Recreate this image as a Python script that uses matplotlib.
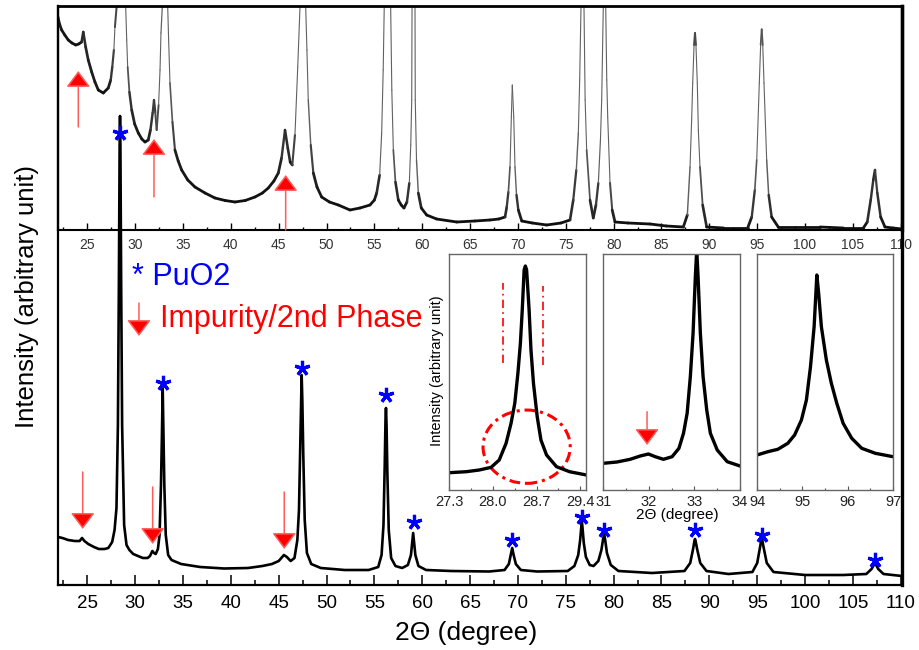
import numpy as np
import matplotlib
matplotlib.use('Agg')
import matplotlib.pyplot as plt
import matplotlib.font_manager as fm
from matplotlib.patches import Ellipse
from matplotlib.collections import LineCollection
from matplotlib.ticker import MultipleLocator, FixedLocator


def pick(names):
    for n in names:
        try:
            fm.findfont(fm.FontProperties(family=n), fallback_to_default=False)
            return n
        except Exception:
            pass
    return 'DejaVu Sans'


NARROW = pick(['Liberation Sans Narrow', 'Arial Narrow', 'Liberation Sans'])
ARIAL = pick(['Liberation Sans', 'Arial', 'DejaVu Sans'])
plt.rcParams['font.family'] = [ARIAL, 'DejaVu Sans']

# ---------------- data ----------------
# main (bottom) pattern
bottom_2theta = [21.94, 22.4, 23.0, 23.7, 24.2, 24.45, 24.7, 25.1, 25.7, 26.2, 26.8, 27.2, 27.6, 27.85,
                 28.05, 28.2, 28.3, 28.38, 28.42, 28.46, 28.54, 28.64, 28.85, 29.1, 29.4, 29.8, 30.3, 30.8,
                 31.3, 31.55, 31.8, 31.97, 32.15, 32.38, 32.55, 32.7, 32.8, 32.88, 32.96, 33.05, 33.2, 33.45,
                 33.8, 34.8, 36.8, 39.3, 41.8, 43.3, 44.3, 45.0, 45.55, 45.85, 46.25, 46.65, 46.95, 47.12,
                 47.25, 47.34, 47.4, 47.47, 47.57, 47.72, 47.95, 48.4, 49.4, 51.9, 54.4, 55.4, 55.75, 55.95,
                 56.08, 56.16, 56.21, 56.27, 56.36, 56.5, 56.75, 57.2, 57.9, 58.5, 58.82, 58.97, 59.05, 59.13,
                 59.28, 59.6, 60.4, 63.0, 67.0, 68.6, 69.05, 69.25, 69.4, 69.55, 69.78, 70.3, 72.0, 75.2,
                 75.9, 76.3, 76.5, 76.62, 76.68, 76.74, 76.88, 77.1, 77.5, 77.9, 78.4, 78.72, 78.9, 79.0,
                 79.1, 79.3, 79.7, 80.5, 84.0, 87.4, 88.0, 88.3, 88.44, 88.5, 88.56, 88.72, 89.05, 89.7,
                 92.0, 94.5, 95.0, 95.3, 95.42, 95.47, 95.53, 95.66, 96.0, 96.7, 100.0, 104.0, 106.4,
                 106.95, 107.3, 107.65, 108.2, 110.13]
bottom_intensity = [48, 47, 45, 44, 44, 47, 44, 41, 38, 36, 36, 37, 43, 55,
                    77, 160, 300, 440, 469, 440, 300, 160, 60, 40, 35, 31, 29, 27,
                    27, 29, 34, 32, 31, 36, 50, 100, 150, 197, 150, 100, 50, 30,
                    25, 21, 18, 16.5, 17, 19, 21, 24, 30, 28, 24, 27, 45, 75,
                    140, 190, 210, 185, 130, 65, 32, 21, 17, 15, 15, 18, 30, 60,
                    120, 165, 177, 160, 110, 55, 27, 19, 17, 20, 30, 44, 52, 44,
                    30, 19, 15, 14, 13.5, 15, 21, 30, 37, 30, 21, 15, 13.5, 14,
                    19, 30, 45, 58, 63, 58, 42, 28, 20, 19, 24, 35, 46, 50,
                    46, 32, 20, 14, 12, 14, 22, 36, 44, 46, 44, 36, 22, 14,
                    11, 13, 22, 38, 45, 47, 45, 38, 22, 13, 10, 10, 11,
                    16, 22, 16, 11, 9]

# upper panel (expanded scale, strong peaks run off the top)
top_2theta = [21.94, 22.1, 22.32, 22.65, 23.01, 23.4, 23.79, 24.1, 24.41, 24.58, 24.83, 25.1, 25.46,
              25.8, 26.15, 26.67, 27.19, 27.45, 27.61, 27.78, 27.89,
              28.07, 28.42, 29.01, 29.12, 29.22, 29.4, 29.64, 29.95, 30.33, 30.7, 31.03, 31.37, 31.6,
              31.83, 31.97, 32.1, 32.25, 32.45, 32.6, 32.70, 32.84,
              33.12, 33.40, 33.5, 33.64, 33.9, 34.16, 34.5, 34.86, 35.5, 36.25, 37.3, 38.34, 39.4,
              40.43, 41.5, 42.52, 43.3, 43.91, 44.5, 44.96, 45.3, 45.66, 45.95, 46.2, 46.42, 46.7,
              46.99, 47.23, 47.52, 47.82, 47.95, 48.09, 48.35, 48.62, 49.0, 49.49, 50.3, 51.23, 52.45,
              53.5, 54.54, 55.0, 55.24, 55.55, 55.76, 55.92, 56.03,
              56.37, 56.70, 56.82, 56.98, 57.2, 57.50, 57.8, 58.09, 58.4, 58.65, 58.80, 58.90, 59.11,
              59.27, 59.4, 59.59, 59.9, 60.46, 61.5, 63.60, 65.5, 67.08, 68.0,
              68.65, 68.83, 69.0, 69.17, 69.31, 69.41, 69.56, 69.69, 69.85, 70.04, 70.4, 71.5, 73.00,
              74.5, 75.44, 75.78, 76.1, 76.31, 76.45,
              76.59, 76.72, 76.90, 77.02, 77.18, 77.53, 77.87, 78.15, 78.40, 78.62, 78.75, 78.92, 79.02,
              79.17, 79.28, 79.38, 79.62, 79.85, 80.14, 81.5, 83.80, 85.5, 87.28, 87.70, 87.98, 88.15,
              88.26, 88.40, 88.50, 88.60, 88.74, 88.85, 89.02, 89.3, 89.72, 91.5, 94.0, 94.43, 94.75,
              94.95, 95.22, 95.36, 95.47, 95.58, 95.71, 95.99, 96.2, 96.51, 97.2, 99.0, 101.56, 104.0,
              106.09, 106.5, 106.86, 107.13, 107.31, 107.55, 107.9, 108.35, 109.2, 110.13]
top_intensity = [213, 206, 200, 195, 190, 187, 185, 186, 188, 198, 183, 170, 158,
                 148, 140, 137, 142, 150, 163, 180, 203,
                 224, 3000, 224, 190, 163, 138, 120, 106, 97, 91, 88, 90, 100,
                 117, 130, 118, 100, 125, 160, 197, 224,
                 3000, 224, 190, 147, 108, 80, 69, 60, 50, 43, 37, 32, 29.5,
                 28, 29.5, 33, 37, 42, 49, 57, 72, 100, 82, 68, 65, 95,
                 163, 224, 3000, 224, 180, 130, 85, 57, 43, 33, 28, 25, 20,
                 22, 25, 30, 37, 55, 97, 160, 224,
                 3000, 224, 140, 80, 48, 30, 25, 22, 28, 47, 85, 130, 700,
                 130, 70, 37, 22, 15, 11, 8, 9, 10, 11,
                 13, 23, 38, 63, 113, 145, 113, 63, 35, 20, 9, 7, 5,
                 7, 10, 30, 60, 97, 150,
                 224, 3000, 224, 130, 80, 30, 12, 25, 47, 90, 130, 224, 3000,
                 224, 150, 113, 47, 20, 8, 7, 6, 4, 3, 15, 63, 110,
                 147, 185, 197, 185, 147, 100, 63, 25, 3, 2, 2, 13, 40,
                 70, 147, 185, 200.7, 185, 147, 70, 35, 13, 3, 3, 3, 2,
                 2, 8, 30, 50, 60, 37, 13, 3, 2, 1]

# insets
ins1_2theta = [27.3, 27.57, 27.78, 27.97, 28.10, 28.21, 28.29, 28.35, 28.40, 28.44, 28.47, 28.50, 28.52,
               28.54, 28.58, 28.61, 28.65, 28.71, 28.77, 28.86, 29.02, 29.23, 29.5]
ins1_intensity = [17.3, 18.3, 20, 22.7, 30, 46.7, 66.7, 86.7, 116.7, 146.7, 180, 220, 224,
                  220, 180, 140, 106.7, 73.3, 50, 35, 23.3, 18.3, 15]
ins2_2theta = [31.0, 31.3, 31.59, 31.81, 31.99, 32.14, 32.32, 32.51, 32.66, 32.76, 32.84, 32.91, 32.97,
               33.02, 33.05, 33.08, 33.13, 33.19, 33.27, 33.35, 33.5, 33.72, 34.0]
ins2_intensity = [26.7, 28, 30.7, 34, 36, 33.3, 30.7, 33.3, 41.7, 56.7, 76.7, 113.3, 156.7,
                  213.3, 240, 213.3, 156.7, 113.3, 80, 56.7, 40, 28.3, 24]
ins3_2theta = [94.0, 94.24, 94.46, 94.68, 94.83, 94.98, 95.09, 95.18, 95.26, 95.32, 95.36, 95.42, 95.53,
               95.64, 95.76, 95.9, 96.09, 96.31, 96.61, 97.0]
ins3_intensity = [35, 38.3, 40.7, 46.7, 55, 70, 90, 123.3, 163.3, 215, 196.7, 163.3, 130,
                  106.7, 86.7, 66.7, 51.7, 41.7, 36.7, 33.3]

# PuO2 reflections (stars) on main pattern
star_2theta = [28.42, 32.9, 47.42, 56.21, 59.1, 69.4, 76.68, 79.0, 88.5, 95.47, 107.3]
star_intensity = [452, 202, 217, 190, 63, 45, 68, 55, 55, 50, 25]

# impurity arrows: position, tail, tip
main_arrow_2theta = [24.52, 31.83, 45.58]
main_arrow_tail = [113, 98, 93]
main_arrow_tip = [56, 41, 36]
top_arrow_2theta = [24.06, 31.97, 45.73]
top_arrow_tail = [103, 33, 0]
top_arrow_tip = [159, 91, 55]
legend_arrow = (30.40, 282, 249)
ins2_arrow = (31.96, 78.3, 45)

ins1_mark_2theta = [28.16, 28.81]
ins1_mark_low = [126.7, 125]
ins1_mark_high = [206.7, 204]
ins1_circle = (28.54, 43.3, 1.40, 73.3)

main_ticks = list(range(25, 111, 5))
ins1_ticks = [27.3, 28.0, 28.7, 29.4]
ins2_ticks = [31, 32, 33, 34]
ins3_ticks = [94, 95, 96, 97]

# ---------------- figure ----------------
W, H = 919, 650
fig = plt.figure(figsize=(W / 100, H / 100), dpi=100)


def rect(x0, y0, x1, y1):
    return [x0 / W, 1 - y1 / H, (x1 - x0) / W, (y1 - y0) / H]


XLIM = (21.94, 110.13)
RED = '#ff0000'
SHAFT = '#ff5c5c'
BLUE = '#0000ff'


def red_arrow(axx, x, tail, tip):
    axx.annotate('', xy=(x, tip), xytext=(x, tail),
                 arrowprops=dict(arrowstyle='-|>,head_length=1.0,head_width=0.75',
                                 mutation_scale=10, lw=1.1, ec=SHAFT, fc=RED,
                                 shrinkA=0, shrinkB=0), annotation_clip=False)


# upper panel
ax_top = fig.add_axes(rect(58, 6, 902, 230), zorder=1)
ax_top.set_xlim(*XLIM)
ax_top.set_ylim(0, 224)
# flat (noisy) stretches look heavy and dark, steep peak flanks look thin and grey
tx = np.array(top_2theta, dtype=float)
ty = np.array(top_intensity, dtype=float)
px_per_deg = 844 / (XLIM[1] - XLIM[0])
segs = [[(tx[i], ty[i]), (tx[i + 1], ty[i + 1])] for i in range(len(tx) - 1)]
slope = np.abs(np.diff(ty)) / (np.diff(tx) * px_per_deg)
widths = np.clip(2.3 - 0.07 * slope, 0.8, 2.0)
grey = np.clip(0.06 + 0.018 * slope, 0.06, 0.38)
colors = [(g, g, g) for g in grey]
ax_top.add_collection(LineCollection(segs, linewidths=widths, colors=colors,
                                     capstyle='round', joinstyle='round'))
ax_top.set_yticks([])
ax_top.xaxis.set_major_locator(FixedLocator(main_ticks))
ax_top.xaxis.set_minor_locator(MultipleLocator(2.5))
ax_top.tick_params(axis='x', which='major', direction='in', length=5, width=1, pad=6,
                   labelsize=10, labelcolor='#333333')
ax_top.tick_params(axis='x', which='minor', direction='in', length=2.5, width=1)
for s, lw in (('top', 2.0), ('left', 1.6), ('right', 2.4), ('bottom', 1.5)):
    ax_top.spines[s].set_linewidth(lw)
for x, t0, t1 in zip(top_arrow_2theta, top_arrow_tail, top_arrow_tip):
    red_arrow(ax_top, x, t0, t1)

# main panel
ax = fig.add_axes(rect(58, 6, 902, 585), zorder=2)
ax.patch.set_alpha(0)
ax.plot(bottom_2theta, bottom_intensity, color='black', lw=1.9, solid_joinstyle='round')
ax.plot(star_2theta, star_intensity, linestyle='none', marker=(5, 2, 0), ms=11, mew=2.3,
        color=BLUE)
ax.set_xlim(*XLIM)
ax.set_ylim(0, 579)
ax.set_yticks([])
ax.xaxis.set_major_locator(FixedLocator(main_ticks))
ax.xaxis.set_minor_locator(MultipleLocator(2.5))
ax.tick_params(axis='x', which='major', direction='in', length=7, width=1.1, pad=7, labelsize=13.5)
ax.tick_params(axis='x', which='minor', direction='in', length=3.5, width=1.1)
for tl in ax.get_xticklabels():
    tl.set_fontfamily(NARROW)
ax.spines['top'].set_visible(False)
for s, lw in (('left', 1.6), ('right', 2.4), ('bottom', 1.6)):
    ax.spines[s].set_linewidth(lw)
for x, t0, t1 in zip(main_arrow_2theta, main_arrow_tail, main_arrow_tip):
    red_arrow(ax, x, t0, t1)
red_arrow(ax, *legend_arrow)
ax.text(29.65, 300, '* PuO2', color=BLUE, fontsize=22, ha='left', va='baseline')
ax.text(32.55, 258, 'Impurity/2nd Phase', color=RED, fontsize=22, ha='left', va='baseline')

fig.text(27 / W, 1 - 296 / H, 'Intensity (arbitrary unit)', rotation=90, ha='center', va='center',
         fontsize=18.5)
fig.text(466 / W, 1 - 633 / H, '2\u0398 (degree)', ha='center', va='center', fontsize=19,
         family=[NARROW, 'DejaVu Sans'])

# insets
insets = [
    (rect(449.4, 254, 586.4, 490), ins1_2theta, ins1_intensity, (27.3, 29.5), ins1_ticks, ['27.3', '28.0', '28.7', '29.4']),
    (rect(603.3, 254, 740, 490), ins2_2theta, ins2_intensity, (31, 34), ins2_ticks, ['31', '32', '33', '34']),
    (rect(757, 254, 893, 490), ins3_2theta, ins3_intensity, (94, 97), ins3_ticks, ['94', '95', '96', '97']),
]
ins_axes = []
for r, xs, ys, xl, ticks, labels in insets:
    a = fig.add_axes(r, zorder=3)
    a.plot(xs, ys, color='black', lw=2.4, solid_joinstyle='round')
    a.set_xlim(*xl)
    a.set_ylim(0, 236)
    a.set_yticks([])
    a.set_xticks(ticks)
    a.set_xticklabels(labels)
    step = ticks[1] - ticks[0]
    a.xaxis.set_minor_locator(FixedLocator([t + step / 2 for t in ticks[:-1]]
                                           + [ticks[0] - step / 2, ticks[-1] + step / 2]))
    a.tick_params(axis='x', which='major', direction='in', length=3, width=0.8, pad=3.5,
                  labelsize=10.5, color='#555555', labelcolor='#222222')
    a.tick_params(axis='x', which='minor', direction='in', length=1.8, width=0.8, color='#555555')
    for s in a.spines.values():
        s.set_color('#666666')
        s.set_linewidth(1.0)
    ins_axes.append(a)

ins1, ins2, ins3 = ins_axes
ins1.vlines(ins1_mark_2theta, ins1_mark_low, ins1_mark_high, colors=RED, lw=1.2,
            linestyles=[(0, (5, 2.5, 1, 2.5))])
cx, cy, cw, ch = ins1_circle
ins1.add_patch(Ellipse((cx, cy), cw, ch, fill=False, ec=RED, lw=2.2,
                       ls=(0, (3.5, 1.6, 1, 1.6))))
red_arrow(ins2, *ins2_arrow)

fig.text(437 / W, 1 - 371 / H, 'Intensity (arbitrary unit)', rotation=90, ha='center', va='center',
         fontsize=10.5)
fig.text(677 / W, 1 - 515 / H, '2\u0398 (degree)', ha='center', va='center', fontsize=11)

fig.savefig('out.png', dpi=100)
